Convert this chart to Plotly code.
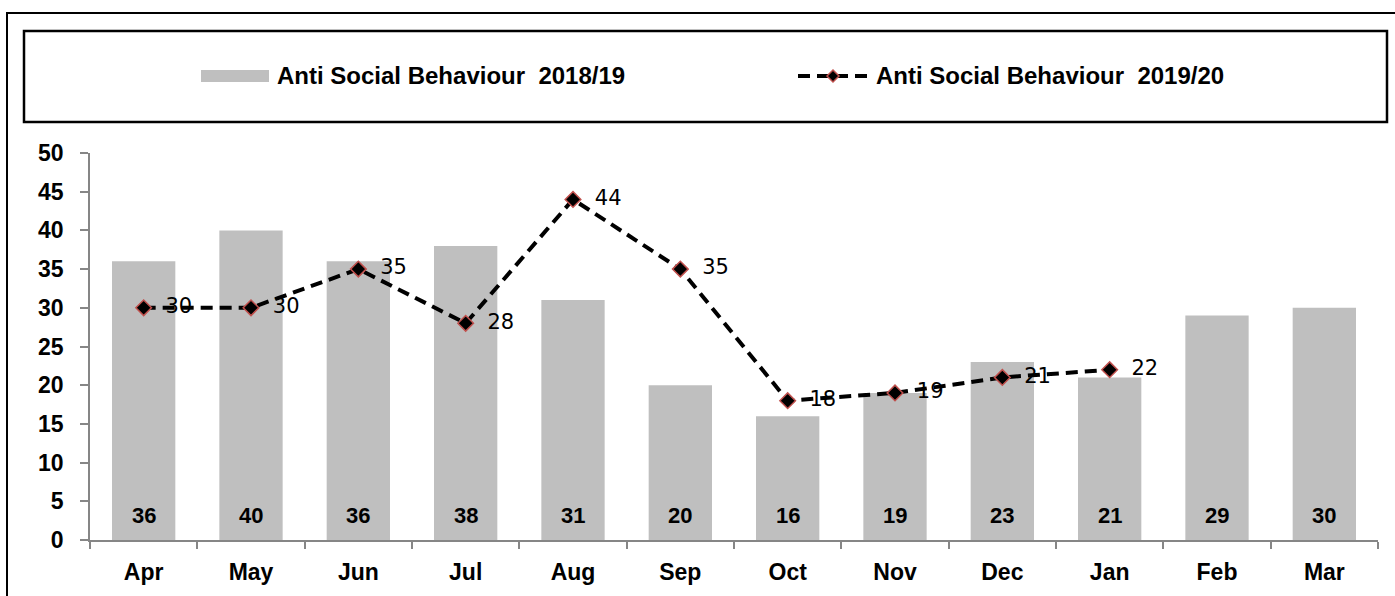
import plotly.graph_objects as go

# chart data
months = ['Apr', 'May', 'Jun', 'Jul', 'Aug', 'Sep', 'Oct', 'Nov', 'Dec', 'Jan', 'Feb', 'Mar']
asb_2018 = [36, 40, 36, 38, 31, 20, 16, 19, 23, 21, 29, 30]
asb_2019 = [30, 30, 35, 28, 44, 35, 18, 19, 21, 22]
name_2018 = 'Anti Social Behaviour  2018/19'
name_2019 = 'Anti Social Behaviour  2019/20'

W, H = 1395, 596
L, R, T, B = 90, 17, 153, 56
pw, ph = W - L - R, H - T - B


def px_x(x):
    return (x - L) / pw


def px_y(y):
    return (H - B - y) / ph


fig = go.Figure()

fig.add_trace(go.Bar(
    x=months, y=asb_2018, name=name_2018,
    marker=dict(color='#bfbfbf', line=dict(width=0)),
    width=0.59, showlegend=False,
))

fig.add_trace(go.Scatter(
    x=months[:len(asb_2019)], y=asb_2019, name=name_2019,
    mode='lines+markers+text',
    line=dict(color='black', width=4, dash='12px,7px'),
    marker=dict(symbol='diamond', size=12, color='black',
                line=dict(color='#c0504d', width=1.5)),
    text=['\u00a0\u00a0' + str(v) for v in asb_2019], textposition='middle right',
    textfont=dict(family='DejaVu Sans', size=21, color='black'),
    cliponaxis=False, showlegend=False,
))

shapes = []
annotations = []

# bar value labels sit near the base of each bar
for m, v in zip(months, asb_2018):
    annotations.append(dict(x=m, y=0, yshift=25, text='<b>%d</b>' % v, showarrow=False,
                            xanchor='center', yanchor='middle',
                            font=dict(family='Liberation Sans', size=22, color='black')))

# outer frame
shapes.append(dict(type='rect', xref='paper', yref='paper',
                   x0=px_x(7), x1=px_x(1400), y0=px_y(13), y1=px_y(610),
                   line=dict(color='black', width=2), layer='below'))
# legend box
shapes.append(dict(type='rect', xref='paper', yref='paper',
                   x0=px_x(24), x1=px_x(1387), y0=px_y(31), y1=px_y(122),
                   line=dict(color='black', width=2.5)))
# legend swatch for bars
shapes.append(dict(type='rect', xref='paper', yref='paper',
                   x0=px_x(201), x1=px_x(269), y0=px_y(70), y1=px_y(82),
                   fillcolor='#bfbfbf', line=dict(width=0)))
annotations.append(dict(xref='paper', yref='paper', x=px_x(275), y=px_y(76),
                        xanchor='left', yanchor='middle', showarrow=False,
                        text='<b>' + name_2018 + '</b>',
                        font=dict(family='Liberation Sans', size=24, color='black')))
# legend swatch for line
shapes.append(dict(type='line', xref='paper', yref='paper',
                   x0=px_x(798), x1=px_x(869), y0=px_y(76), y1=px_y(76),
                   line=dict(color='black', width=4, dash='12px,7px')))
cx, cy = 833, 76
d = 6
shapes.append(dict(type='path', xref='paper', yref='paper',
                   path='M {} {} L {} {} L {} {} L {} {} Z'.format(
                       px_x(cx - d), px_y(cy), px_x(cx), px_y(cy - d),
                       px_x(cx + d), px_y(cy), px_x(cx), px_y(cy + d)),
                   fillcolor='black', line=dict(color='#c0504d', width=1.5)))
annotations.append(dict(xref='paper', yref='paper', x=px_x(874), y=px_y(76),
                        xanchor='left', yanchor='middle', showarrow=False,
                        text='<b>' + name_2019 + '</b>',
                        font=dict(family='Liberation Sans', size=24, color='black')))

fig.update_layout(
    width=W, height=H,
    margin=dict(l=L, r=R, t=T, b=B),
    paper_bgcolor='white', plot_bgcolor='white',
    bargap=0.41,
    shapes=shapes, annotations=annotations,
    xaxis=dict(
        range=[-0.5, len(months) - 0.5],
        showline=True, linecolor='#868686', linewidth=1.5,
        ticks='outside', ticklen=7, tickcolor='#868686', tickwidth=1.5,
        tickson='boundaries', ticklabelstandoff=11,
        tickfont=dict(family='Liberation Sans', size=23, color='black', weight='bold'),
        showgrid=False,
    ),
    yaxis=dict(
        range=[0, 50], dtick=5,
        showline=True, linecolor='#868686', linewidth=1.5,
        ticks='outside', ticklen=8, tickcolor='#868686', tickwidth=1.5,
        ticklabelstandoff=12,
        tickfont=dict(family='Liberation Sans', size=23, color='black', weight='bold'),
        showgrid=False, zeroline=False,
    ),
)

fig.write_html('out.html', config={'displayModeBar': False},
               post_script="document.body.style.margin='0';")
